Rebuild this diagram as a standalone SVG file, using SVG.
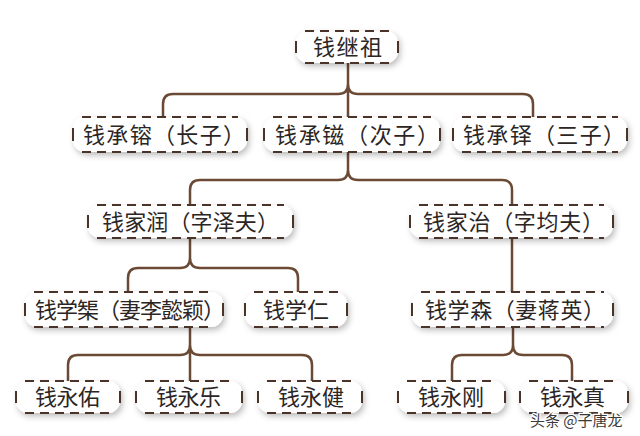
<svg xmlns="http://www.w3.org/2000/svg" width="640" height="436" viewBox="0 0 640 436">
<defs>
<filter id="sh" x="-20%" y="-40%" width="140%" height="200%">
<feDropShadow dx="2" dy="3" stdDeviation="3" flood-color="#000" flood-opacity="0.28"/>
</filter>
<style>
.bx{fill:#fff;filter:url(#sh)}
.d{fill:none;stroke:#4a3328;stroke-width:2;stroke-dasharray:9 6}
.s{fill:none;stroke:#4a3328;stroke-width:2}
.t{font-family:"Noto Sans CJK SC","Noto Sans CJK JP",sans-serif;font-size:22px;fill:#2b2624}
.c{fill:none;stroke:#6b4a35;stroke-width:2.5;stroke-linecap:round}
.wm{font-family:"Noto Sans CJK SC",sans-serif;font-size:15px;fill:#3a3a3a;stroke:#fff;stroke-width:2.5;paint-order:stroke}
</style>
</defs>
<rect width="640" height="436" fill="#fff"/>
<g id="connectors">
<path class="c" d="M348,63 V84 Q348,94 338,94 H173 Q163,94 163,104 V117 M348,84 Q348,94 358,94 H523 Q533,94 533,104 V117 M348,84 V117"/>
<path class="c" d="M348,152 V170 Q348,180 338,180 H200 Q190,180 190,190 V205 M348,170 Q348,180 358,180 H502 Q512,180 512,190 V205"/>
<path class="c" d="M190,238 V258 Q190,268 180,268 H138 Q128,268 128,278 V292 M190,258 Q190,268 200,268 H288 Q298,268 298,278 V292"/>
<path class="c" d="M512,238 V292"/>
<path class="c" d="M190,327 V345 Q190,355 180,355 H78 Q68,355 68,365 V381 M190,345 Q190,355 200,355 H302 Q312,355 312,365 V381 M190,345 V381"/>
<path class="c" d="M513,327 V345 Q513,355 503,355 H462 Q452,355 452,365 V381 M513,345 Q513,355 523,355 H562 Q572,355 572,365 V381"/>
</g>
<g id="n-root">
<rect class="bx" x="296" y="31" width="102" height="32" rx="12"/>
<path class="d" d="M305,31 H389 M305,63 H389"/>
<path class="s" d="M296,41 V53 M398,41 V53"/>
<text class="t" x="313" y="55" textLength="69" lengthAdjust="spacing">钱继祖</text>
</g>
<g id="n-a">
<rect class="bx" x="73" y="117" width="174" height="35" rx="12"/>
<path class="d" d="M82,117 H238 M82,152 H238"/>
<path class="s" d="M73,128 V141 M247,128 V141"/>
<text class="t" x="83" y="143" textLength="162" lengthAdjust="spacing">钱承镕（长子）</text>
</g>
<g id="n-b">
<rect class="bx" x="264" y="117" width="176" height="35" rx="12"/>
<path class="d" d="M273,117 H431 M273,152 H431"/>
<path class="s" d="M264,128 V141 M440,128 V141"/>
<text class="t" x="275" y="143" textLength="164" lengthAdjust="spacing">钱承镃（次子）</text>
</g>
<g id="n-c">
<rect class="bx" x="453" y="117" width="174" height="35" rx="12"/>
<path class="d" d="M462,117 H618 M462,152 H618"/>
<path class="s" d="M453,128 V141 M627,128 V141"/>
<text class="t" x="463" y="143" textLength="162" lengthAdjust="spacing">钱承铎（三子）</text>
</g>
<g id="n-d">
<rect class="bx" x="88" y="205" width="205" height="33" rx="12"/>
<path class="d" d="M97,205 H284 M97,238 H284"/>
<path class="s" d="M88,215 V228 M293,215 V228"/>
<text class="t" x="102" y="230" textLength="177" lengthAdjust="spacing">钱家润（字泽夫）</text>
</g>
<g id="n-e">
<rect class="bx" x="410" y="205" width="203" height="33" rx="12"/>
<path class="d" d="M419,205 H604 M419,238 H604"/>
<path class="s" d="M410,215 V228 M613,215 V228"/>
<text class="t" x="423" y="230" textLength="181" lengthAdjust="spacing">钱家治（字均夫）</text>
</g>
<g id="n-f">
<rect class="bx" x="25" y="292" width="198" height="35" rx="12"/>
<path class="d" d="M34,292 H214 M34,327 H214"/>
<path class="s" d="M25,303 V316 M223,303 V316"/>
<text class="t" x="35" y="318" textLength="190" lengthAdjust="spacing">钱学榘（妻李懿颖）</text>
</g>
<g id="n-g">
<rect class="bx" x="245" y="292" width="102" height="35" rx="12"/>
<path class="d" d="M254,292 H338 M254,327 H338"/>
<path class="s" d="M245,303 V316 M347,303 V316"/>
<text class="t" x="263" y="318">钱学仁</text>
</g>
<g id="n-h">
<rect class="bx" x="412" y="292" width="201" height="35" rx="12"/>
<path class="d" d="M421,292 H604 M421,327 H604"/>
<path class="s" d="M412,303 V316 M613,303 V316"/>
<text class="t" x="425" y="318" textLength="180" lengthAdjust="spacing">钱学森（妻蒋英）</text>
</g>
<g id="n-i">
<rect class="bx" x="16" y="381" width="104" height="32" rx="12"/>
<path class="d" d="M25,381 H111 M25,413 H111"/>
<path class="s" d="M16,391 V403 M120,391 V403"/>
<text class="t" x="35" y="405" textLength="65" lengthAdjust="spacing">钱永佑</text>
</g>
<g id="n-j">
<rect class="bx" x="136" y="381" width="106" height="32" rx="12"/>
<path class="d" d="M145,381 H233 M145,413 H233"/>
<path class="s" d="M136,391 V403 M242,391 V403"/>
<text class="t" x="156" y="405" textLength="65" lengthAdjust="spacing">钱永乐</text>
</g>
<g id="n-k">
<rect class="bx" x="258" y="381" width="104" height="32" rx="12"/>
<path class="d" d="M267,381 H353 M267,413 H353"/>
<path class="s" d="M258,391 V403 M362,391 V403"/>
<text class="t" x="278" y="405" textLength="66" lengthAdjust="spacing">钱永健</text>
</g>
<g id="n-l">
<rect class="bx" x="398" y="381" width="107" height="32" rx="12"/>
<path class="d" d="M407,381 H496 M407,413 H496"/>
<path class="s" d="M398,391 V403 M505,391 V403"/>
<text class="t" x="418" y="405" textLength="66" lengthAdjust="spacing">钱永刚</text>
</g>
<g id="n-m">
<rect class="bx" x="520" y="381" width="108" height="32" rx="12"/>
<path class="d" d="M529,381 H619 M529,413 H619"/>
<path class="s" d="M520,391 V403 M628,391 V403"/>
<text class="t" x="540" y="405" textLength="65" lengthAdjust="spacing">钱永真</text>
</g>
<text class="wm" x="530" y="426">头条 @子唐龙</text>
</svg>
